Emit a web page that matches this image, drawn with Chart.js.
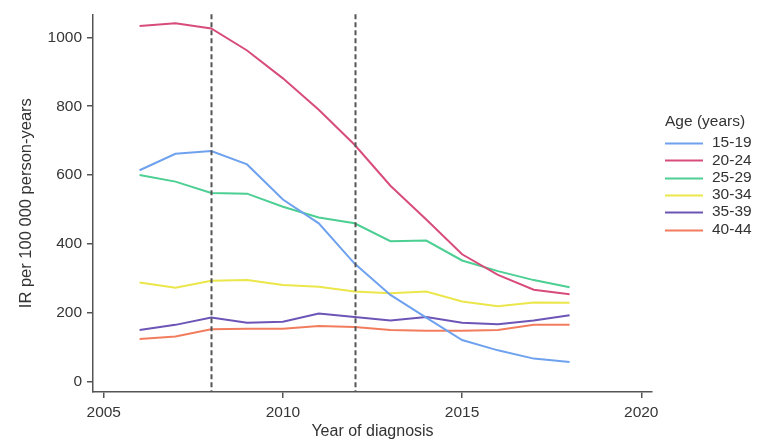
<!DOCTYPE html>
<html>
<head>
<meta charset="utf-8">
<script src="https://cdn.jsdelivr.net/npm/chart.js@4"></script>
<style>
  html, body { margin: 0; padding: 0; background: #fff; }
  #wrap { width: 758px; height: 444px; }
</style>
</head>
<body>
<div id="wrap"><canvas id="c" width="758" height="444"></canvas></div>
<script>
const years = [2006, 2007, 2008, 2009, 2010, 2011, 2012, 2013, 2014, 2015, 2016, 2017, 2018];
const ageGroups = ['15-19', '20-24', '25-29', '30-34', '35-39', '40-44'];
const age1519 = [614, 662, 670, 631, 529, 460, 343, 252, 186, 121, 91, 67, 57];
const age2024 = [1033, 1041, 1026, 962, 881, 790, 688, 569, 471, 370, 310, 267, 254];
const age2529 = [600, 581, 548, 546, 508, 477, 460, 408, 410, 352, 321, 295, 274];
const age3034 = [288, 273, 293, 295, 281, 276, 262, 257, 262, 233, 219, 230, 229];
const age3539 = [150, 165, 186, 171, 174, 198, 188, 178, 188, 171, 167, 178, 193];
const age4044 = [124, 131, 152, 154, 154, 162, 159, 150, 148, 148, 150, 165, 165];
const xTicks = [2005, 2010, 2015, 2020];
const yTicks = [0, 200, 400, 600, 800, 1000];
const refYears = [2008, 2012];
const legendTitle = 'Age (years)';
const xTitle = 'Year of diagnosis';
const yTitle = 'IR per 100 000 person-years';

const seriesValues = [age1519, age2024, age2529, age3034, age3539, age4044];
const colors = ['#6fa2ee', '#d84c7c', '#4ccf92', '#ebe64a', '#6c55b6', '#f27d5e'];
const FONT = '"Liberation Sans", Arial, sans-serif';

const datasets = ageGroups.map((g, i) => ({
  label: g,
  data: years.map((y, j) => ({x: y, y: seriesValues[i][j]})),
  borderColor: colors[i],
  backgroundColor: colors[i],
  borderWidth: 2,
  pointRadius: 0,
  tension: 0,
  fill: false
}));

const refLines = {
  id: 'refLines',
  afterDatasetsDraw(chart) {
    const {ctx, chartArea, scales} = chart;
    ctx.save();
    ctx.strokeStyle = '#555';
    ctx.lineWidth = 2;
    ctx.setLineDash([5, 3]);
    refYears.forEach(yr => {
      const x = Math.round(scales.x.getPixelForValue(yr)) + 0.5;
      ctx.beginPath();
      ctx.moveTo(x, chartArea.top);
      ctx.lineTo(x, chartArea.bottom);
      ctx.stroke();
    });
    ctx.restore();
  }
};

const customLegend = {
  id: 'customLegend',
  afterDraw(chart) {
    const {ctx} = chart;
    ctx.save();
    ctx.font = '15.5px ' + FONT;
    ctx.fillStyle = '#333';
    ctx.textBaseline = 'middle';
    ctx.textAlign = 'left';
    ctx.fillText(legendTitle, 665, 122);
    chart.data.datasets.forEach((ds, i) => {
      const y = 143 + i * 17.3;
      ctx.strokeStyle = ds.borderColor;
      ctx.lineWidth = 2;
      ctx.beginPath();
      ctx.moveTo(665, Math.round(y) + 0.5);
      ctx.lineTo(703, Math.round(y) + 0.5);
      ctx.stroke();
      ctx.fillStyle = '#333';
      ctx.fillText(ds.label, 712, y);
    });
    ctx.restore();
  }
};

new Chart(document.getElementById('c'), {
  type: 'line',
  data: { datasets },
  options: {
    responsive: false,
    animation: false,
    devicePixelRatio: 1,
    layout: { padding: { top: 8, right: 106, left: 0, bottom: 0 } },
    plugins: { legend: { display: false }, tooltip: { enabled: false } },
    scales: {
      x: {
        type: 'linear',
        min: 2004.7,
        max: 2020.3,
        afterBuildTicks(scale) { scale.ticks = xTicks.map(v => ({value: v})); },
        afterFit(scale) { scale.height = 52; },
        grid: { display: true, drawOnChartArea: false, drawTicks: true, tickLength: 6, color: '#555', lineWidth: 1.5 },
        border: { display: true, color: '#555', width: 1.5 },
        ticks: { color: '#363636', padding: 5, font: { size: 15.5, family: FONT }, maxRotation: 0, callback: v => String(v) },
        title: { display: true, text: xTitle, color: '#333', font: { size: 16, family: FONT }, padding: { top: 0, bottom: 3 } }
      },
      y: {
        type: 'linear',
        min: -30,
        max: 1067,
        afterBuildTicks(scale) { scale.ticks = yTicks.map(v => ({value: v})); },
        afterFit(scale) { scale.width = 93; },
        grid: { display: true, drawOnChartArea: false, drawTicks: true, tickLength: 6, color: '#555', lineWidth: 1.5 },
        border: { display: true, color: '#555', width: 1.5 },
        ticks: { color: '#363636', padding: 5, font: { size: 15.5, family: FONT }, callback: v => String(v) },
        title: { display: true, text: yTitle, color: '#333', font: { size: 16.5, family: FONT }, padding: { top: 17, bottom: 0 } }
      }
    }
  },
  plugins: [refLines, customLegend]
});
</script>
</body>
</html>
